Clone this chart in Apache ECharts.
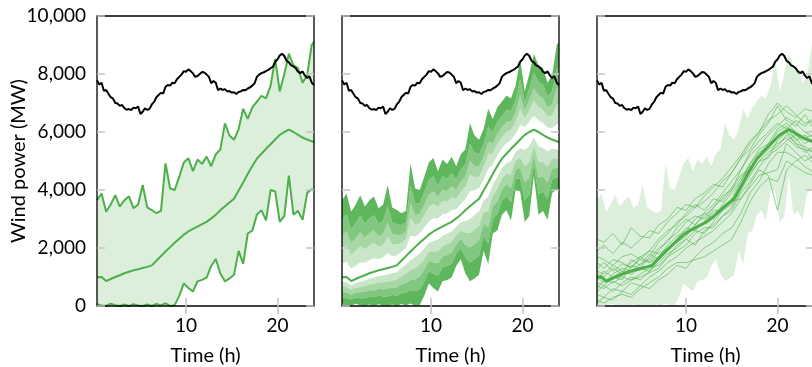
<!DOCTYPE html>
<html>
<head>
<meta charset="utf-8">
<script src="https://cdn.jsdelivr.net/npm/echarts@6/dist/echarts.min.js"></script>
<style>
  html, body { margin: 0; padding: 0; background: #fff; }
  #chart { width: 812px; height: 367px; }
</style>
</head>
<body>
<div id="chart"></div>
<script>
// time axis (h), half-hour steps
const hours = [0.25, 0.75, 1.25, 1.75, 2.25, 2.75, 3.25, 3.75, 4.25, 4.75,
  5.25, 5.75, 6.25, 6.75, 7.25, 7.75, 8.25, 8.75, 9.25, 9.75,
  10.25, 10.75, 11.25, 11.75, 12.25, 12.75, 13.25, 13.75, 14.25, 14.75,
  15.25, 15.75, 16.25, 16.75, 17.25, 17.75, 18.25, 18.75, 19.25, 19.75,
  20.25, 20.75, 21.25, 21.75, 22.25, 22.75, 23.25, 23.75, 24];

// black line, quarter-hour steps
const actualHours = [0.25, 0.5, 0.75, 1, 1.25, 1.5, 1.75, 2, 2.25, 2.5, 2.75, 3,
  3.25, 3.5, 3.75, 4, 4.25, 4.5, 4.75, 5, 5.25, 5.5, 5.75, 6,
  6.25, 6.5, 6.75, 7, 7.25, 7.5, 7.75, 8, 8.25, 8.5, 8.75, 9,
  9.25, 9.5, 9.75, 10, 10.25, 10.5, 10.75, 11, 11.25, 11.5, 11.75, 12,
  12.25, 12.5, 12.75, 13, 13.25, 13.5, 13.75, 14, 14.25, 14.5, 14.75, 15,
  15.25, 15.5, 15.75, 16, 16.25, 16.5, 16.75, 17, 17.25, 17.5, 17.75, 18,
  18.25, 18.5, 18.75, 19, 19.25, 19.5, 19.75, 20, 20.25, 20.5, 20.75, 21,
  21.25, 21.5, 21.75, 22, 22.25, 22.5, 22.75, 23, 23.25, 23.5, 23.75, 24];
const actual = [7780, 7640, 7700, 7420, 7450, 7320, 7200, 7150, 7000, 6980, 6900, 6930,
  6820, 6770, 6790, 6760, 6840, 6820, 6880, 6620, 6700, 6820, 6760, 6800,
  6950, 7040, 7200, 7280, 7350, 7330, 7560, 7620, 7600, 7700, 7680, 7820,
  7900, 7980, 8100, 8080, 8160, 8100, 8020, 7900, 7930, 8000, 8070, 8050,
  7980, 7900, 7680, 7760, 7700, 7440, 7500, 7450, 7480, 7400, 7410, 7360,
  7370, 7310, 7380, 7400, 7450, 7440, 7500, 7540, 7600, 7680, 7900, 7980,
  8030, 8060, 8100, 8140, 8200, 8250, 8420, 8500, 8640, 8700, 8620, 8450,
  8400, 8300, 8260, 8200, 8080, 8030, 8090, 7950, 7860, 7920, 7700, 7620];

// forecast mean (green line)
const meanForecast = [990, 1000, 860, 930, 1000, 1060, 1130, 1180, 1230, 1265,
  1310, 1350, 1400, 1560, 1720, 1880, 2030, 2180, 2320, 2460,
  2570, 2660, 2740, 2820, 2900, 3020, 3150, 3300, 3440, 3570,
  3700, 3980, 4260, 4550, 4830, 5080, 5250, 5420, 5580, 5740,
  5900, 6000, 6080, 6000, 5900, 5810, 5740, 5680, 5650];

// interval bounds
const upperBound = [3650, 3880, 3250, 3500, 3820, 3430, 3650, 3780, 3370, 3500,
  4170, 3400, 3310, 3200, 3280, 4920, 4050, 4000, 4450, 4950,
  5100, 4650, 5050, 4900, 5150, 4820, 5230, 5400, 6300, 5880,
  5730, 6100, 6800, 6450, 6850, 7050, 7250, 7160, 7600, 8520,
  7400, 8000, 8700, 8300, 8200, 7700, 7960, 9000, 9110];
const lowerBound = [60, 20, 0, 80, 30, 0, 50, 0, 60, 20,
  0, 50, 0, 70, 20, 90, 0, 30, 350, 780,
  620, 500, 850, 900, 980, 1380, 1620, 1120, 850, 950,
  1080, 1900, 1450, 2500, 2600, 3150, 3300, 2950, 4000, 3950,
  2900, 3100, 4500, 3150, 3280, 2970, 3900, 4020, 4000];

// fan chart quantiles (middle panel), outer to inner
const fanUpper1 = [2990, 3160, 2650, 2860, 3120, 2840, 3020, 3130, 2840, 2940,
  3460, 2890, 2830, 2790, 2890, 4160, 3550, 3550, 3920, 4330,
  4470, 4150, 4470, 4380, 4590, 4370, 4710, 4880, 5590, 5300,
  5220, 5570, 6170, 5980, 6350, 6560, 6750, 6730, 7100, 7830,
  7030, 7500, 8050, 7730, 7630, 7230, 7410, 8170, 8250];
const fanUpper2 = [2450, 2580, 2180, 2340, 2550, 2360, 2520, 2610, 2410, 2490,
  2880, 2480, 2450, 2460, 2580, 3550, 3140, 3180, 3490, 3830,
  3960, 3760, 4010, 3960, 4140, 4010, 4290, 4460, 5010, 4840,
  4820, 5150, 5660, 5600, 5940, 6160, 6350, 6380, 6690, 7270,
  6730, 7100, 7520, 7270, 7170, 6850, 6960, 7510, 7550];
const fanUpper3 = [2000, 2090, 1770, 1910, 2070, 1960, 2090, 2170, 2040, 2110,
  2400, 2130, 2130, 2180, 2310, 3040, 2800, 2870, 3130, 3410,
  3530, 3420, 3620, 3610, 3760, 3700, 3940, 4100, 4530, 4450,
  4470, 4790, 5230, 5270, 5600, 5830, 6010, 6080, 6350, 6800,
  6470, 6760, 7080, 6870, 6770, 6530, 6580, 6940, 6970];
const fanUpper4 = [1470, 1520, 1290, 1390, 1510, 1490, 1580, 1650, 1620, 1670,
  1830, 1720, 1740, 1860, 2000, 2430, 2390, 2510, 2700, 2910,
  3030, 3020, 3160, 3190, 3310, 3340, 3520, 3680, 3960, 3990,
  4070, 4360, 4720, 4890, 5190, 5440, 5610, 5730, 5940, 6240,
  6170, 6360, 6550, 6410, 6310, 6150, 6140, 6280, 6270];
const fanLower4 = [830, 830, 710, 790, 840, 880, 950, 980, 1030, 1050,
  1090, 1130, 1160, 1310, 1430, 1580, 1690, 1810, 1990, 2170,
  2240, 2290, 2420, 2490, 2570, 2740, 2890, 2930, 3000, 3130,
  3260, 3630, 3780, 4200, 4450, 4750, 4920, 5000, 5310, 5440,
  5390, 5510, 5810, 5520, 5450, 5330, 5430, 5400, 5370];
const fanLower3 = [660, 650, 550, 620, 650, 680, 740, 760, 810, 820,
  840, 880, 900, 1020, 1110, 1240, 1300, 1410, 1610, 1860,
  1870, 1880, 2060, 2130, 2210, 2430, 2600, 2520, 2510, 2630,
  2760, 3230, 3250, 3810, 4030, 4390, 4550, 4530, 5010, 5100,
  4820, 4960, 5510, 4970, 4960, 4790, 5080, 5080, 5060];
const fanLower2 = [480, 460, 390, 460, 470, 480, 540, 530, 590, 580,
  590, 640, 630, 740, 790, 900, 910, 1000, 1240, 1540,
  1500, 1470, 1700, 1760, 1840, 2120, 2310, 2100, 2020, 2130,
  2260, 2840, 2710, 3420, 3600, 4020, 4180, 4060, 4710, 4760,
  4250, 4410, 5210, 4430, 4460, 4250, 4730, 4770, 4740];
const fanLower1 = [290, 270, 220, 290, 270, 270, 320, 300, 350, 330,
  330, 380, 350, 440, 450, 540, 510, 570, 840, 1200,
  1110, 1040, 1320, 1380, 1460, 1790, 2000, 1670, 1500, 1610,
  1740, 2420, 2150, 3010, 3160, 3630, 3790, 3570, 4400, 4400,
  3650, 3830, 4900, 3860, 3940, 3680, 4360, 4440, 4410];

// scenarios (right panel), hourly
const scenarioHours = [0.25, 1, 2, 3, 4, 5, 6, 7, 8, 9, 10, 11, 12, 13, 14, 15, 16, 17, 18, 19, 20, 21, 22, 23, 24];
const scenario1 = [1300, 1500, 1200, 1450, 1350, 1600, 1500, 1900, 2300, 2500, 2900, 3100, 3000, 3400, 3800, 4000, 4400, 4900, 5400, 5600, 6100, 6300, 6000, 5800, 5900];
const scenario2 = [700, 600, 850, 700, 900, 1000, 1150, 1300, 1700, 2100, 2300, 2600, 2500, 2900, 3300, 3500, 4100, 4600, 5000, 5300, 5500, 5900, 5600, 5500, 5300];
const scenario3 = [2300, 2200, 2500, 2100, 2700, 2400, 2350, 2800, 3000, 3400, 3300, 3700, 3900, 4200, 4100, 4600, 5100, 5400, 5900, 6300, 6900, 6400, 6200, 6600, 6100];
const scenario4 = [400, 300, 600, 500, 800, 700, 1000, 1200, 1500, 1700, 2000, 2200, 2400, 2600, 2900, 3200, 3700, 4100, 4500, 4600, 4700, 5600, 5300, 5000, 5200];
const scenario5 = [1000, 800, 1100, 1300, 1200, 1450, 1600, 2000, 2200, 2700, 3000, 2800, 3200, 3500, 3900, 4300, 4700, 5200, 5500, 5900, 6200, 6500, 6300, 6000, 5800];
const scenario6 = [1700, 1600, 1400, 1700, 1800, 1600, 1900, 2300, 2600, 2800, 3200, 3500, 3300, 3700, 3600, 4000, 4700, 5300, 5700, 6000, 6300, 6100, 6400, 6200, 6500];
const scenario7 = [500, 700, 500, 800, 1000, 900, 1200, 1500, 1800, 2000, 2300, 2100, 2600, 2800, 3100, 3400, 4000, 4500, 5000, 5100, 5700, 6000, 5800, 5400, 5000];
const scenario8 = [1200, 1100, 1400, 1200, 1500, 1700, 1500, 1700, 2100, 2400, 2600, 3000, 3200, 3000, 3500, 3900, 4300, 4900, 5300, 5500, 6000, 6200, 5700, 5900, 5600];
const scenario9 = [200, 100, 300, 400, 300, 600, 800, 1000, 1300, 1500, 1500, 1600, 1700, 1900, 2100, 2300, 2900, 3600, 4100, 4400, 4300, 5000, 4800, 4600, 4500];
const scenario10 = [900, 1200, 1000, 900, 1400, 1300, 1700, 2200, 2500, 2900, 3100, 3400, 3600, 3900, 4300, 4600, 5100, 5600, 6000, 6400, 6600, 6900, 6600, 6300, 6400];
const scenario11 = [1500, 1300, 1600, 1500, 1300, 1700, 1900, 1800, 2000, 2200, 2500, 2700, 2900, 3300, 3300, 3700, 4300, 4800, 5100, 5400, 5600, 5800, 5500, 5400, 5300];
const scenario12 = [600, 900, 800, 1000, 900, 1100, 1300, 1400, 1700, 1900, 2100, 2500, 2700, 2700, 3100, 3300, 3900, 4300, 4800, 5200, 5400, 5700, 5900, 5600, 5800];
const scenario13 = [100, 300, 200, 500, 400, 700, 600, 900, 1100, 1400, 1300, 1700, 2000, 2200, 2500, 2700, 3200, 3900, 4300, 4900, 5300, 5300, 5100, 4800, 4600];
const scenario14 = [1900, 2100, 1800, 2200, 2000, 2300, 2600, 2500, 2900, 3200, 3500, 3400, 3800, 4100, 4400, 4800, 5200, 5700, 6000, 6600, 7000, 6700, 6500, 6800, 6700];
const scenario15 = [1100, 1000, 1300, 1100, 1600, 1400, 1800, 1600, 2000, 2300, 2700, 2600, 2900, 3200, 3400, 3600, 3700, 4200, 4700, 4500, 3300, 4700, 5000, 5200, 4900];
const scenario16 = [800, 700, 1000, 1200, 1100, 1300, 1200, 1600, 1900, 2200, 2400, 2800, 3100, 3400, 3700, 4100, 4500, 4700, 5200, 5600, 5800, 6000, 5600, 5300, 5500];
const scenarios = [scenario1, scenario2, scenario3, scenario4, scenario5, scenario6,
  scenario7, scenario8, scenario9, scenario10, scenario11, scenario12,
  scenario13, scenario14, scenario15, scenario16];

// ticks
const xTicks = [10, 20];
const yTicks = [0, 2000, 4000, 6000, 8000, 10000];

const FONT = 'Lato';
const GREEN = '#4daf4a';
const green = a => 'rgba(77,175,74,' + a + ')';
const TICK_GREY = '#c4c4c4';

const pairs = (xs, ys) => xs.map((x, i) => [x, ys[i]]);

function line(panel, data, color, width) {
    return {
        type: 'line',
        xAxisIndex: panel * 2,
        yAxisIndex: panel * 2,
        data: data,
        showSymbol: false,
        symbol: 'none',
        silent: true,
        lineStyle: { color: color, width: width },
    };
}

// filled area between two curves, mapped through the axes
function band(panel, top, bottom, fill) {
    return {
        type: 'custom',
        xAxisIndex: panel * 2,
        yAxisIndex: panel * 2,
        silent: true,
        clip: true,
        data: [[12, 5000]],
        renderItem: (params, api) => {
            const pts = [];
            hours.forEach((h, i) => pts.push(api.coord([h, top[i]])));
            for (let i = hours.length - 1; i >= 0; i--) pts.push(api.coord([hours[i], bottom[i]]));
            return { type: 'polygon', shape: { points: pts }, style: { fill: fill } };
        },
    };
}

const lefts = [97, 342, 597];
const grids = lefts.map(l => ({
    left: l, top: 16, width: 217, height: 290,
    outerBoundsMode: 'none',
    show: true, borderColor: '#000', borderWidth: 1.3,
    backgroundColor: 'transparent', z: 10,
}));

const xAxes = [];
const yAxes = [];
lefts.forEach((l, i) => {
    ['bottom', 'top'].forEach(pos => {
        xAxes.push({
            gridIndex: i, type: 'value', min: 0.25, max: 24, position: pos, z: 10,
            axisLine: { show: false },
            axisTick: { inside: true, length: 8, customValues: xTicks, lineStyle: { color: TICK_GREY, width: 1.5 } },
            axisLabel: { show: pos === 'bottom', customValues: xTicks, fontSize: 19, color: '#000', margin: 10, fontFamily: FONT },
            splitLine: { show: false },
            name: pos === 'bottom' ? 'Time (h)' : '',
            nameLocation: 'middle', nameGap: 40, nameMoveOverlap: false,
            nameTextStyle: { fontSize: 20, color: '#000', fontFamily: FONT },
        });
    });
    ['left', 'right'].forEach(pos => {
        yAxes.push({
            gridIndex: i, type: 'value', min: yTicks[0], max: yTicks[yTicks.length - 1], interval: 2000, position: pos, z: 10,
            axisLine: { show: false },
            axisTick: { inside: true, length: 8, lineStyle: { color: TICK_GREY, width: 1.5 } },
            axisLabel: {
                show: i === 0 && pos === 'left', fontSize: 19, color: '#000', margin: 11, fontFamily: FONT,
                formatter: v => v.toLocaleString('en-US'),
            },
            splitLine: { show: false },
            name: i === 0 && pos === 'left' ? 'Wind power (MW)' : '',
            nameLocation: 'middle', nameGap: 68, nameMoveOverlap: false,
            nameTextStyle: { fontSize: 20, color: '#000', fontFamily: FONT },
        });
    });
});

const series = [];

// left panel: interval band
series.push(band(0, upperBound, lowerBound, green(0.2)));
series.push(line(0, pairs(hours, upperBound), GREEN, 2));
series.push(line(0, pairs(hours, lowerBound), GREEN, 2));
series.push(line(0, pairs(hours, meanForecast), GREEN, 2));
series.push(line(0, pairs(actualHours, actual), '#000', 2));

// middle panel: fan chart, outer bands darkest, blank strip round the mean
const fanLevels = [lowerBound, fanLower1, fanLower2, fanLower3, fanLower4,
    fanUpper4, fanUpper3, fanUpper2, fanUpper1, upperBound];
const fanFills = [green(0.9), green(0.7), green(0.5), green(0.3), null,
    green(0.3), green(0.5), green(0.7), green(0.9)];
for (let k = 1; k < fanLevels.length; k++) {
    if (fanFills[k - 1]) series.push(band(1, fanLevels[k], fanLevels[k - 1], fanFills[k - 1]));
}
series.push(line(1, pairs(hours, meanForecast), GREEN, 2));
series.push(line(1, pairs(actualHours, actual), '#000', 2));

// right panel: scenarios
series.push(band(2, upperBound, lowerBound, green(0.2)));
scenarios.forEach(s => series.push(line(2, pairs(scenarioHours, s), green(0.65), 0.9)));
series.push(line(2, pairs(hours, meanForecast), GREEN, 3));
series.push(line(2, pairs(actualHours, actual), '#000', 2));

const chart = echarts.init(document.getElementById('chart'), null, { renderer: 'canvas' });
chart.setOption({
    animation: false,
    backgroundColor: '#fff',
    grid: grids,
    xAxis: xAxes,
    yAxis: yAxes,
    series: series,
});
</script>
</body>
</html>
